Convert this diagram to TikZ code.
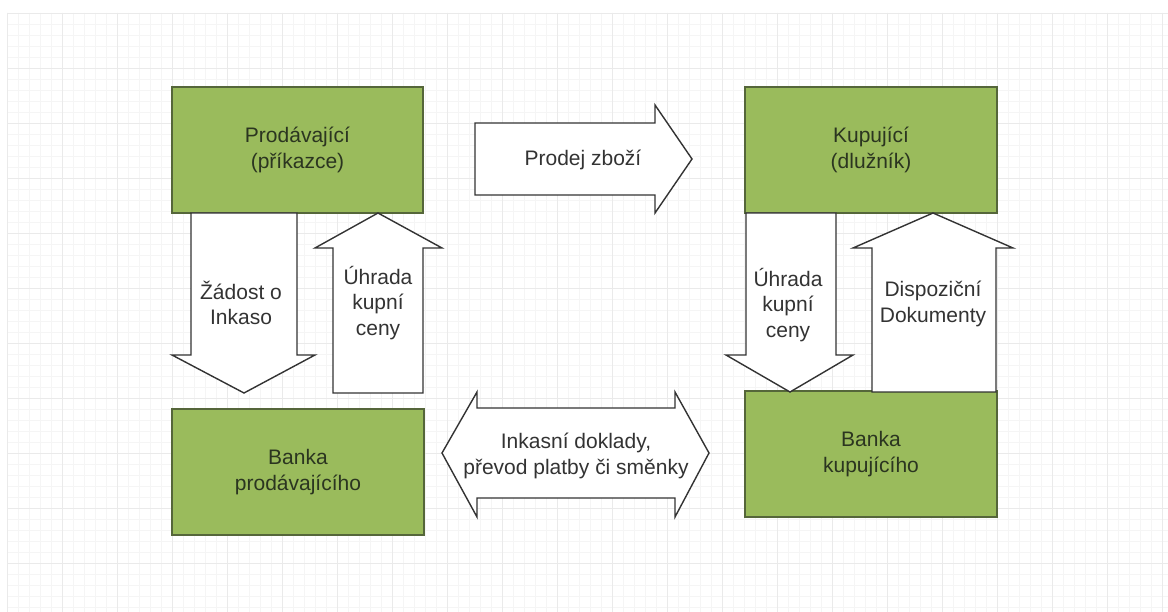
\documentclass[tikz,border=0pt]{standalone}
\usepackage{fontspec}
\setmainfont{Liberation Sans}
\definecolor{boxgreen}{HTML}{9ABB5C}
\definecolor{boxline}{HTML}{55663A}
\definecolor{txt}{HTML}{333333}
\definecolor{boxtxt}{HTML}{2B3520}
\definecolor{gridminor}{HTML}{F5F5F5}
\definecolor{gridmajor}{HTML}{EAEAEA}
\begin{document}
\begin{tikzpicture}[x=1pt,y=-1pt,
  party/.style={draw=boxline, line width=1.2pt, fill=boxgreen, text=boxtxt,
    font=\fontsize{21}{26}\selectfont, align=center, inner sep=0pt},
  blockarrow/.style={draw=txt, line width=1.4pt, fill=white, line join=miter},
  lbl/.style={text=txt, font=\fontsize{21}{25.5}\selectfont, align=center, inner sep=0pt}]
\useasboundingbox (0,0) rectangle (1168,612);
\fill[white] (0,0) rectangle (1168,612);
% faint grid
\begin{scope}
\clip (7,13) rectangle (1168,612);
\foreach \i in {0,...,107} {\draw[gridminor, line width=0.6pt] (7+\i*11,13) -- (7+\i*11,612);}
\foreach \i in {0,...,55} {\draw[gridminor, line width=0.6pt] (7,13+\i*11) -- (1168,13+\i*11);}
\foreach \i in {0,...,21} {\draw[gridmajor, line width=0.7pt] (7+\i*55,13) -- (7+\i*55,612);}
\foreach \i in {0,...,11} {\draw[gridmajor, line width=0.7pt] (7,13+\i*55) -- (1168,13+\i*55);}
\end{scope}

% green boxes
\node[party, minimum width=251pt, minimum height=126pt] (sel) at (297.5,150) {Prodávající\\(příkazce)};
\node[party, minimum width=252pt, minimum height=126pt] (buy) at (871,150) {Kupující\\(dlužník)};
\node[party, minimum width=252pt, minimum height=126pt] (bsel) at (298,472) {Banka\\prodávajícího};
\node[party, minimum width=252pt, minimum height=126pt] (bbuy) at (871,454) {Banka\\kupujícího};

% Prodej zboží (right arrow)
\draw[blockarrow] (475,123) -- (655,123) -- (655,105) -- (692,159) -- (655,213) -- (655,195) -- (475,195) -- cycle;
\node[lbl] (prodej) at (583,160) {Prodej zboží};

% Žádost o Inkaso (down arrow, left)
\draw[blockarrow] (191,213) -- (297,213) -- (297,355) -- (315,355) -- (244,393) -- (172,355) -- (191,355) -- cycle;
\node[lbl] (zadost) at (241,303) {Žádost o\\Inkaso};

% Úhrada kupní ceny (up arrow, left)
\draw[blockarrow] (333,393) -- (333,248) -- (315,248) -- (378,213) -- (442,248) -- (423,248) -- (423,393) -- cycle;
\node[lbl] (uhradaL) at (378,303) {Úhrada\\kupní\\ceny};

% Úhrada kupní ceny (down arrow, right)
\draw[blockarrow] (746,213) -- (836,213) -- (836,355) -- (853,355) -- (790,392) -- (726,355) -- (746,355) -- cycle;
\node[lbl] (uhradaR) at (788,305) {Úhrada\\kupní\\ceny};

% Dispoziční Dokumenty (up arrow, right)
\draw[blockarrow] (872,392) -- (872,248) -- (853,248) -- (933,213) -- (1013,248) -- (996,248) -- (996,392) -- cycle;
\node[lbl] (dispo) at (933,304) {Dispoziční\\Dokumenty};

% Inkasní doklady (double arrow)
\draw[blockarrow] (442,453) -- (477,392) -- (477,408) -- (675,408) -- (675,392) -- (709,453) -- (675,517) -- (675,498) -- (477,498) -- (477,517) -- cycle;
\node[lbl] (inkaso) at (576,456) {Inkasní doklady,\\převod platby či směnky};
\end{tikzpicture}
\end{document}
